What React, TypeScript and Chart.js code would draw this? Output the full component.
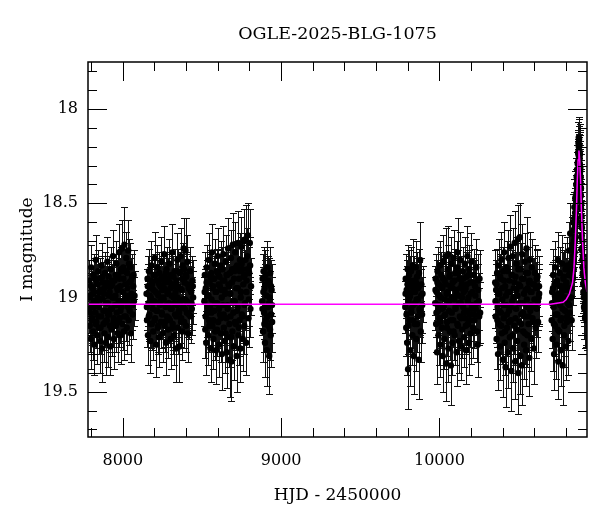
import { useEffect, useRef } from 'react';
import { Chart, registerables } from 'chart.js';

Chart.register(...registerables);

type Obs = [number, number, number]; // [HJD-2450000, I mag, error]

const season2017: Obs[] = [
  [7785,19.06,.13],[7788,18.91,.11],[7791,19.15,.14],[7794,18.99,.12],[7797,19.22,.16],[7800,18.84,.12],
  [7803,19.04,.12],[7806,19.11,.13],[7809,18.95,.11],[7812,19.18,.15],[7815,18.88,.11],[7818,19.02,.12],
  [7821,19.25,.16],[7824,18.97,.11],[7827,19.08,.13],[7830,18.80,.13],[7833,19.13,.14],[7836,18.93,.11],
  [7839,19.20,.15],[7842,19.00,.12],[7845,18.86,.11],[7848,19.16,.14],[7851,19.05,.12],[7854,18.90,.11],
  [7857,19.23,.17],[7860,18.96,.12],[7863,19.10,.13],[7866,18.83,.12],[7869,19.27,.18],[7872,19.01,.12],
  [7875,18.92,.11],[7878,19.14,.14],[7881,18.98,.12],[7884,19.19,.15],[7887,18.87,.11],[7890,19.07,.12],
  [7893,19.24,.17],[7896,18.94,.11],[7899,19.12,.13],[7902,18.81,.13],[7905,19.03,.12],[7908,19.21,.16],
  [7911,18.89,.11],[7914,19.09,.13],[7917,18.97,.12],[7920,19.26,.15],[7923,18.85,.12],[7926,19.06,.12],
  [7929,19.17,.14],[7932,18.93,.11],[7935,19.00,.12],[7938,18.78,.14],[7941,19.13,.13],[7944,19.22,.16],
  [7947,18.91,.11],[7950,19.04,.12],[7953,18.99,.12],[7956,19.15,.14],[7959,18.82,.12],[7962,19.08,.13],
  [7965,18.95,.11],[7968,19.19,.15],[7971,18.88,.11],[7974,19.02,.12],[7977,18.76,.15],[7980,19.11,.13],
  [7983,18.94,.11],[7986,19.20,.15],[7989,18.85,.12],[7992,19.05,.12],[7995,18.74,.15],[7998,19.14,.14],
  [8001,18.97,.12],[8004,18.90,.11],[8007,19.18,.15],[8010,18.72,.20],[8013,19.01,.12],[8016,18.86,.12],
  [8019,19.10,.13],[8022,18.79,.14],[8025,19.16,.14],[8028,18.95,.11],[8031,19.03,.12],[8034,18.75,.16],
  [8037,19.12,.13],[8040,18.92,.11],[8043,19.07,.12],[8046,18.84,.13],[8050,19.19,.15],[8054,18.98,.12],
  [8058,18.89,.12],[8062,19.09,.13],[8066,18.94,.12],[8070,19.02,.13],[8074,18.99,.13],
  [7787,19.00,.12],[7793,19.08,.12],[7799,18.94,.11],[7805,19.12,.13],[7811,18.98,.12],[7817,19.05,.12],
  [7823,18.90,.11],[7829,19.14,.13],[7835,19.02,.12],[7841,18.93,.11],[7847,19.10,.13],[7853,18.97,.12],
  [7859,19.16,.14],[7865,19.01,.12],[7871,18.89,.11],[7877,19.07,.12],[7883,18.95,.11],[7889,19.13,.13],
  [7895,19.03,.12],[7901,18.92,.11],[7907,19.09,.13],[7913,18.99,.12],[7919,19.15,.14],[7925,18.94,.11],
  [7931,19.06,.12],[7937,18.91,.11],[7943,19.11,.13],[7949,19.00,.12],[7955,18.88,.11],[7961,19.04,.12],
  [7967,18.96,.12],[7973,19.13,.13],[7979,18.90,.11],[7985,19.07,.12],[7991,18.86,.12],[7997,19.02,.12],
  [8003,18.84,.12],[8009,19.10,.13],[8015,18.93,.12],[8021,18.99,.12],[8027,18.87,.12],[8033,19.05,.12],
  [8039,18.82,.13],[8045,19.00,.12],[8052,18.91,.12],[8060,19.04,.13],[8068,18.88,.13],
];

const season2018: Obs[] = [
  [8150,18.98,.13],[8153,19.12,.14],[8156,18.90,.12],[8159,19.20,.16],[8162,19.03,.12],[8165,18.86,.12],
  [8168,19.09,.13],[8171,18.95,.11],[8174,19.23,.17],[8177,19.00,.12],[8180,18.83,.13],[8183,19.14,.14],
  [8186,18.93,.11],[8189,19.06,.12],[8192,19.18,.15],[8195,18.88,.11],[8198,19.02,.12],[8201,18.79,.14],
  [8204,19.11,.13],[8207,18.97,.12],[8210,19.25,.17],[8213,18.91,.11],[8216,19.07,.12],[8219,18.84,.12],
  [8222,19.16,.14],[8225,18.99,.12],[8228,19.21,.16],[8231,18.87,.11],[8234,19.04,.12],[8237,18.94,.11],
  [8240,19.13,.14],[8243,18.81,.13],[8246,19.08,.13],[8249,18.96,.12],[8252,19.19,.15],[8255,18.89,.11],
  [8258,19.01,.12],[8261,18.77,.15],[8264,19.15,.14],[8267,18.92,.11],[8270,19.05,.12],[8273,19.24,.17],
  [8276,18.85,.12],[8279,19.10,.13],[8282,18.98,.12],[8285,19.17,.15],[8288,18.90,.11],[8291,19.03,.12],
  [8294,18.82,.13],[8297,19.12,.14],[8300,18.95,.11],[8303,19.22,.16],[8306,18.88,.11],[8309,19.06,.12],
  [8312,18.76,.15],[8315,19.14,.14],[8318,18.93,.11],[8321,19.00,.12],[8324,19.20,.16],[8327,18.86,.12],
  [8330,19.09,.13],[8333,18.97,.12],[8336,19.27,.18],[8339,18.91,.11],[8342,19.04,.12],[8345,18.80,.14],
  [8348,19.16,.14],[8351,18.94,.11],[8354,19.07,.12],[8357,19.26,.19],[8360,18.87,.11],[8363,19.02,.12],
  [8366,18.78,.15],[8369,19.11,.13],[8372,18.96,.12],[8375,19.18,.15],[8378,18.83,.12],[8381,19.05,.12],
  [8384,18.74,.16],[8387,19.13,.14],[8390,18.92,.11],[8393,19.01,.12],[8396,18.75,.17],[8399,19.15,.14],
  [8402,18.89,.12],[8405,19.08,.13],[8408,18.81,.14],[8412,19.19,.15],[8416,18.95,.12],[8420,19.03,.13],
  [8424,18.86,.13],[8428,19.10,.14],[8432,18.97,.13],[8436,19.06,.14],[8440,18.91,.13],[8444,19.00,.14],
  [8152,19.05,.12],[8158,18.94,.12],[8164,19.10,.13],[8170,18.99,.12],[8176,19.14,.13],[8182,18.91,.11],
  [8188,19.03,.12],[8194,18.96,.12],[8200,19.12,.13],[8206,18.88,.11],[8212,19.07,.12],[8218,18.98,.12],
  [8224,19.15,.14],[8230,18.93,.11],[8236,19.02,.12],[8242,18.90,.11],[8248,19.09,.13],[8254,19.00,.12],
  [8260,18.95,.12],[8266,19.13,.13],[8272,18.87,.11],[8278,19.04,.12],[8284,18.97,.12],[8290,19.11,.13],
  [8296,18.92,.11],[8302,19.06,.12],[8308,18.99,.12],[8314,19.16,.14],[8320,18.89,.11],[8326,19.03,.12],
  [8332,18.94,.12],[8338,19.10,.13],[8344,19.00,.12],[8350,18.86,.12],[8356,19.08,.13],[8362,18.95,.12],
  [8368,19.13,.13],[8374,18.90,.12],[8380,19.01,.12],[8386,18.85,.12],[8392,19.06,.13],[8398,18.88,.12],
  [8404,19.02,.13],[8410,18.93,.12],[8418,19.09,.13],[8426,18.96,.13],[8434,19.03,.14],[8442,18.94,.14],
];

const season2019: Obs[] = [
  [8515,19.02,.13],[8518,18.88,.12],[8521,19.17,.15],[8524,18.95,.12],[8527,19.24,.17],[8530,18.84,.12],
  [8533,19.08,.13],[8536,18.99,.12],[8539,19.20,.16],[8542,18.80,.14],[8545,19.12,.14],[8548,18.92,.11],
  [8551,19.05,.12],[8554,19.27,.18],[8557,18.87,.12],[8560,19.01,.12],[8563,18.76,.15],[8566,19.15,.14],
  [8569,18.94,.11],[8572,19.22,.16],[8575,18.90,.11],[8578,19.07,.13],[8581,18.82,.13],[8584,19.18,.15],
  [8587,18.97,.12],[8590,19.28,.18],[8593,18.86,.12],[8596,19.03,.12],[8599,18.78,.15],[8602,19.13,.14],
  [8605,18.93,.11],[8608,19.25,.17],[8611,18.89,.12],[8614,19.09,.13],[8617,18.83,.13],[8620,19.19,.15],
  [8623,18.96,.12],[8626,19.30,.19],[8629,18.85,.12],[8632,19.04,.12],[8635,18.77,.15],[8638,19.16,.14],
  [8641,18.91,.11],[8644,19.23,.17],[8647,18.98,.12],[8650,18.81,.14],[8653,19.11,.14],[8656,19.29,.19],
  [8659,18.88,.12],[8662,19.06,.13],[8665,18.74,.16],[8668,19.21,.16],[8671,18.94,.12],[8674,19.33,.20],
  [8677,18.87,.12],[8680,19.10,.14],[8683,18.79,.15],[8686,19.34,.21],[8689,18.92,.12],[8692,19.18,.15],
  [8695,18.72,.17],[8698,19.08,.13],[8701,19.26,.18],[8704,18.86,.12],[8707,19.02,.12],[8710,18.76,.16],
  [8713,19.14,.14],[8716,18.95,.12],[8719,19.31,.19],[8722,18.83,.13],[8725,19.05,.13],[8728,18.71,.17],
  [8731,19.20,.16],[8734,18.90,.12],[8737,19.12,.14],[8740,18.80,.14],[8743,19.27,.18],[8746,18.97,.12],
  [8749,18.73,.16],[8752,19.09,.14],[8755,18.85,.13],[8758,19.22,.17],[8761,18.93,.12],[8764,18.70,.17],
  [8767,19.15,.15],[8770,18.88,.13],[8773,19.03,.13],[8776,18.69,.18],[8779,19.24,.17],[8782,18.91,.13],
  [8786,18.78,.15],[8790,18.67,.17],[8794,19.11,.15],[8798,18.87,.14],[8802,18.71,.18],[8806,19.06,.15],
  [8810,18.94,.15],
  [8517,18.97,.12],[8523,19.10,.13],[8529,18.92,.12],[8535,19.05,.12],[8541,18.99,.12],[8547,19.15,.14],
  [8553,18.89,.12],[8559,19.08,.13],[8565,18.95,.12],[8571,19.12,.13],[8577,18.90,.12],[8583,19.03,.12],
  [8589,18.97,.12],[8595,19.17,.14],[8601,18.87,.12],[8607,19.06,.13],[8613,18.94,.12],[8619,19.11,.13],
  [8625,19.00,.12],[8631,18.91,.12],[8637,19.09,.13],[8643,18.96,.12],[8649,19.19,.15],[8655,18.88,.12],
  [8661,19.04,.13],[8667,18.93,.12],[8673,19.14,.14],[8679,18.98,.12],[8685,19.21,.16],[8691,18.85,.13],
  [8697,19.02,.13],[8703,18.90,.12],[8709,19.13,.14],[8715,18.84,.13],[8721,19.07,.13],[8727,18.95,.12],
  [8733,19.16,.15],[8739,18.86,.13],[8745,19.00,.13],[8751,18.82,.14],[8757,19.10,.14],[8763,18.89,.13],
  [8769,19.04,.13],[8775,18.80,.14],[8781,18.97,.13],[8788,18.85,.14],[8796,19.01,.14],[8804,18.83,.15],
];

const season2020: Obs[] = [
  [8880,19.02,.14],[8883,18.90,.13],[8886,19.18,.16],[8889,18.86,.13],[8892,19.08,.14],[8895,18.95,.13],
  [8898,19.24,.18],[8901,18.88,.13],[8904,19.12,.15],[8907,18.99,.14],[8910,19.28,.19],[8913,18.84,.14],
  [8916,19.05,.14],[8919,19.15,.16],[8922,18.92,.13],[8925,19.31,.20],[8928,19.00,.14],[8931,18.87,.14],
  [8934,19.20,.17],[8937,19.09,.15],[8940,18.96,.14],[8943,19.13,.16],
  [8882,19.06,.14],[8888,18.97,.13],[8894,19.14,.15],[8900,18.93,.13],[8906,19.05,.14],[8912,19.10,.15],
  [8918,18.91,.13],[8924,19.03,.14],[8930,19.17,.16],[8936,18.94,.14],[8942,19.04,.15],
];

const season2022: Obs[] = [
  [9784,19.05,.14],[9787,18.90,.13],[9790,19.16,.15],[9793,18.96,.13],[9796,19.24,.17],[9799,18.85,.13],
  [9802,19.38,.21],[9805,19.02,.13],[9808,18.88,.13],[9811,19.12,.15],[9814,18.99,.13],[9817,19.28,.19],
  [9820,18.86,.13],[9823,19.08,.14],[9826,18.94,.13],[9829,19.20,.16],[9832,18.83,.14],[9835,19.04,.13],
  [9838,19.31,.20],[9841,18.91,.13],[9844,19.14,.15],[9847,18.97,.13],[9850,18.84,.14],[9853,19.22,.17],
  [9856,19.01,.13],[9859,18.89,.13],[9862,19.10,.14],[9865,18.95,.13],[9868,19.33,.21],[9871,18.87,.13],
  [9874,19.06,.14],[9878,18.80,.20],[9882,19.18,.16],[9886,18.93,.14],[9890,19.09,.15],[9893,18.98,.15],
  [9786,18.98,.13],[9792,19.09,.14],[9798,18.93,.13],[9804,19.15,.15],[9810,19.00,.13],[9816,18.91,.13],
  [9822,19.06,.14],[9828,18.97,.13],[9834,19.12,.15],[9840,18.95,.13],[9846,19.03,.13],[9852,18.92,.13],
  [9858,19.14,.15],[9864,19.01,.13],[9870,18.94,.13],[9876,19.07,.14],[9884,18.99,.14],[9891,19.04,.15],
];

const season2023: Obs[] = [
  [9973,19.03,.14],[9976,18.90,.13],[9979,19.14,.15],[9982,18.97,.12],[9985,19.29,.17],[9988,18.86,.13],
  [9991,19.07,.13],[9994,19.20,.16],[9997,18.93,.12],[10000,19.11,.14],[10003,18.83,.13],[10006,19.25,.17],
  [10009,19.00,.12],[10012,18.88,.12],[10015,19.16,.15],[10018,18.95,.12],[10021,19.31,.19],[10024,18.81,.14],
  [10027,19.05,.13],[10030,19.22,.16],[10033,18.91,.12],[10036,19.09,.13],[10039,18.78,.15],[10042,19.35,.20],
  [10045,18.98,.12],[10048,19.13,.14],[10051,18.85,.13],[10054,18.77,.15],[10057,19.27,.18],[10060,19.02,.12],
  [10063,18.89,.12],[10066,19.18,.15],[10069,18.94,.12],[10072,19.36,.21],[10075,18.82,.14],[10078,19.08,.13],
  [10081,19.24,.17],[10084,18.92,.12],[10087,19.12,.14],[10090,18.79,.15],[10093,19.01,.12],[10096,19.20,.16],
  [10099,18.87,.13],[10102,19.06,.13],[10105,18.96,.12],[10108,19.29,.18],[10111,18.84,.14],[10114,18.76,.18],
  [10117,19.15,.15],[10120,18.99,.12],[10123,19.23,.17],[10126,18.90,.12],[10129,19.10,.14],[10132,18.80,.15],
  [10135,19.03,.13],[10138,19.26,.18],[10141,18.93,.12],[10144,19.17,.15],[10147,18.86,.13],[10150,19.05,.13],
  [10153,18.97,.12],[10156,19.21,.16],[10159,18.82,.14],[10162,19.11,.14],[10165,18.95,.12],[10168,19.28,.18],
  [10171,18.89,.13],[10174,19.07,.13],[10177,18.78,.16],[10180,19.14,.15],[10183,19.00,.13],[10186,19.24,.17],
  [10189,18.85,.13],[10192,19.09,.14],[10195,18.92,.13],[10198,19.19,.16],[10201,18.81,.15],[10205,19.04,.14],
  [10209,18.97,.13],[10213,19.16,.16],[10217,18.88,.14],[10221,19.12,.15],[10225,18.94,.14],[10229,19.06,.14],
  [10233,18.84,.15],[10237,19.18,.16],[10241,19.25,.17],[10245,18.96,.14],[10249,19.02,.15],[10253,18.90,.15],
  [10257,19.08,.16],
  [9975,18.96,.13],[9981,19.08,.13],[9987,18.92,.12],[9993,19.04,.13],[9999,18.99,.12],[10005,19.13,.14],
  [10011,18.94,.12],[10017,19.06,.13],[10023,18.90,.12],[10029,19.10,.14],[10035,19.01,.12],[10041,18.93,.12],
  [10047,19.16,.15],[10053,18.97,.12],[10059,19.07,.13],[10065,18.88,.12],[10071,19.12,.14],[10077,19.00,.12],
  [10083,18.95,.12],[10089,19.18,.15],[10095,18.91,.12],[10101,19.05,.13],[10107,18.98,.12],[10113,19.14,.14],
  [10119,18.87,.12],[10125,19.03,.13],[10131,18.95,.12],[10137,19.11,.14],[10143,19.00,.12],[10149,18.90,.12],
  [10155,19.08,.13],[10161,18.96,.12],[10167,19.15,.15],[10173,18.93,.12],[10179,19.02,.13],[10185,18.88,.13],
  [10191,19.12,.14],[10197,18.98,.13],[10203,19.06,.14],[10211,18.92,.13],[10219,19.09,.14],[10227,18.99,.14],
  [10235,19.03,.14],[10243,18.91,.14],[10251,19.10,.15],
];

const season2024: Obs[] = [
  [10352,18.92,.17],[10355,19.10,.14],[10358,18.96,.14],[10361,19.22,.16],[10364,18.87,.13],[10367,19.05,.13],
  [10370,19.30,.19],[10373,18.83,.14],[10376,19.14,.15],[10379,18.98,.12],[10382,19.26,.18],[10385,18.90,.12],
  [10388,19.08,.13],[10391,18.80,.15],[10394,19.19,.16],[10397,19.01,.13],[10400,19.33,.20],[10403,18.86,.13],
  [10406,19.11,.14],[10409,18.76,.16],[10412,19.24,.17],[10415,18.94,.12],[10418,19.37,.21],[10421,19.04,.13],
  [10424,18.84,.14],[10427,19.16,.15],[10430,18.97,.12],[10433,19.29,.19],[10436,18.79,.15],[10439,19.07,.13],
  [10442,18.91,.12],[10445,19.21,.17],[10448,18.73,.17],[10451,19.12,.14],[10454,19.39,.21],[10457,18.88,.13],
  [10460,19.02,.13],[10463,18.78,.15],[10466,19.27,.18],[10469,18.95,.12],[10472,19.15,.15],[10475,18.71,.17],
  [10478,19.34,.20],[10481,18.89,.13],[10484,19.06,.13],[10487,18.82,.14],[10490,19.23,.17],[10493,18.99,.13],
  [10496,18.69,.18],[10499,19.40,.22],[10502,18.93,.13],[10505,19.13,.15],[10508,18.68,.18],[10511,19.31,.20],
  [10514,18.85,.14],[10517,19.09,.14],[10520,19.36,.21],[10523,18.77,.16],[10526,19.03,.13],[10529,19.18,.16],
  [10532,18.90,.13],[10535,19.25,.18],[10538,18.81,.15],[10541,19.10,.14],[10544,18.96,.13],[10547,19.28,.19],
  [10550,18.74,.17],[10553,19.05,.14],[10556,19.20,.17],[10559,18.87,.14],[10562,19.14,.15],[10565,18.92,.13],
  [10568,19.32,.20],[10571,18.80,.15],[10574,19.07,.14],[10577,18.97,.13],[10580,19.22,.17],[10584,18.84,.15],
  [10588,19.11,.15],[10592,18.93,.14],[10596,19.27,.19],[10600,19.01,.14],[10603,18.87,.15],[10607,19.16,.16],
  [10611,18.95,.14],[10615,19.06,.15],[10619,18.89,.15],[10623,19.13,.16],[10627,19.00,.15],[10630,18.98,.16],
  [10354,19.02,.14],[10360,18.93,.13],[10366,19.12,.14],[10372,18.98,.12],[10378,19.07,.13],[10384,18.89,.12],
  [10390,19.15,.15],[10396,18.95,.12],[10402,19.04,.13],[10408,18.91,.12],[10414,19.18,.16],[10420,18.99,.13],
  [10426,19.09,.13],[10432,18.86,.13],[10438,19.13,.14],[10444,18.97,.12],[10450,19.05,.13],[10456,18.88,.13],
  [10462,19.20,.16],[10468,19.00,.13],[10474,18.92,.12],[10480,19.11,.14],[10486,18.96,.13],[10492,19.17,.15],
  [10498,18.85,.14],[10504,19.03,.13],[10510,18.94,.13],[10516,19.14,.15],[10522,18.90,.13],[10528,19.08,.14],
  [10534,18.98,.13],[10540,19.19,.16],[10546,18.87,.13],[10552,19.01,.13],[10558,18.95,.13],[10564,19.10,.14],
  [10570,18.91,.13],[10576,19.04,.14],[10582,18.97,.14],[10590,19.13,.15],[10598,18.93,.14],[10606,19.05,.15],
  [10614,18.90,.15],[10622,19.02,.15],[10629,18.94,.16],
];

const season2025: Obs[] = [
  [10709,19.12,.15],[10712,18.97,.15],[10715,19.22,.17],[10718,18.88,.14],[10721,19.05,.14],[10724,19.30,.19],
  [10727,18.93,.13],[10730,19.15,.16],[10733,18.84,.14],[10736,19.01,.14],[10739,19.25,.18],[10742,18.91,.13],
  [10745,19.09,.15],[10748,18.80,.15],[10751,19.34,.20],[10754,18.98,.13],[10757,19.18,.16],[10760,18.87,.14],
  [10763,19.04,.14],[10766,19.28,.19],[10769,18.94,.13],[10772,19.11,.15],[10775,18.82,.15],[10778,19.36,.21],
  [10781,19.00,.14],[10784,18.89,.14],[10787,19.20,.17],[10790,18.96,.13],[10793,19.07,.15],[10796,18.85,.14],
  [10799,19.26,.18],[10802,18.92,.13],[10805,19.13,.15],[10808,18.83,.15],[10811,19.03,.14],[10814,19.23,.18],
  [10817,18.88,.14],[10820,18.75,.15],[10823,19.08,.15],[10826,18.66,.16],[10829,18.95,.14],[10832,18.81,.15],
  [10835,19.12,.16],[10838,18.72,.15],[10841,18.89,.15],[10844,18.78,.14],[10846,18.60,.15],[10848,18.85,.15],
  [10850,18.70,.14],[10852,18.52,.15],[10854,18.76,.14],[10856,18.62,.14],[10858,18.47,.14],[10860,18.68,.14],
  [10862,18.55,.13],[10864,18.40,.14],[10866,18.58,.13],[10868,18.44,.13],[10870,18.32,.13],[10871,18.48,.13],
  [10873,18.29,.12],[10874,18.38,.12],[10876,18.23,.12],[10877,18.33,.12],[10878,18.18,.11],[10879,18.27,.12],
  [10880,18.20,.11],[10881,18.25,.12],[10882,18.16,.11],[10883,18.22,.11],[10884,18.30,.12],[10885,18.19,.11],
  [10886,18.26,.12],[10887,18.34,.12],[10888,18.24,.12],[10889,18.40,.13],[10890,18.31,.12],[10891,18.45,.13],
  [10892,18.36,.12],[10893,18.52,.13],[10894,18.42,.13],[10895,18.60,.14],[10896,18.50,.13],[10897,18.68,.14],
  [10898,18.57,.13],[10899,18.74,.14],[10900,18.63,.14],[10902,18.80,.14],[10903,18.70,.14],[10905,18.87,.15],
  [10906,18.78,.14],[10908,18.93,.15],[10910,18.84,.15],[10912,19.00,.15],[10914,18.89,.15],[10916,19.06,.16],
  [10918,18.94,.15],[10920,19.11,.16],[10922,18.98,.15],[10924,19.04,.16],[10926,18.92,.15],[10928,19.09,.16],
  [10930,19.01,.16],
  [10711,19.03,.15],[10717,18.95,.14],[10723,19.14,.16],[10729,18.99,.14],[10735,19.09,.15],[10741,18.92,.14],
  [10747,19.17,.16],[10753,19.01,.14],[10759,18.94,.14],[10765,19.12,.15],[10771,18.97,.14],[10777,19.06,.15],
  [10783,18.90,.14],[10789,19.15,.16],[10795,19.00,.14],[10801,18.93,.14],[10807,19.10,.15],[10813,18.96,.14],
  [10819,19.04,.15],[10825,18.86,.15],[10831,19.00,.15],[10837,18.84,.15],
  [10843,18.90,.14],[10845,18.72,.14],[10847,18.80,.14],[10849,18.64,.14],[10851,18.75,.14],[10853,18.58,.14],
  [10855,18.68,.13],[10857,18.55,.13],[10859,18.60,.13],[10861,18.48,.13],[10863,18.52,.13],[10865,18.45,.13],
  [10867,18.36,.13],[10869,18.41,.13],[10872,18.35,.12],[10875,18.28,.12],[10878,18.24,.12],[10880,18.15,.11],
  [10883,18.27,.12],[10885,18.23,.12],[10887,18.29,.12],[10889,18.33,.12],[10891,18.39,.12],[10893,18.46,.13],
  [10895,18.53,.13],[10897,18.62,.13],[10899,18.67,.14],[10901,18.75,.14],[10904,18.84,.14],[10907,18.88,.15],
  [10909,18.97,.15],[10911,18.92,.15],[10913,19.05,.15],[10915,18.98,.15],[10919,19.03,.16],[10923,19.10,.16],
  [10927,18.99,.16],[10929,19.12,.16],
];

// Microlensing model curve
const modelHjd = [7780, 10700, 10781, 10801, 10821, 10841, 10850, 10858, 10866, 10870.5, 10876, 10881,
  10886, 10891.5, 10896, 10904, 10912, 10921, 10932];
const modelMag = [19.035, 19.035, 19.025, 19.01, 18.98, 18.92, 18.84, 18.70, 18.52, 18.38, 18.27, 18.22,
  18.27, 18.38, 18.52, 18.70, 18.84, 18.92, 18.97];

const xLabelTicks = [8000, 9000, 10000];
const yLabelTicks = [18, 18.5, 19, 19.5];
const xRange = [7780, 10932];
const yRange = [17.75, 19.74];

const chartTitle = 'OGLE-2025-BLG-1075';
const xAxisTitle = 'HJD - 2450000';
const yAxisTitle = 'I magnitude';

const FONT = "'DejaVu Serif', serif";

const framePlugin = {
  id: 'frameAndErrors',
  beforeDatasetsDraw(chart: any) {
    const { ctx, chartArea: a, scales } = chart;
    const xs = scales.x, ys = scales.y;
    const data = chart.data.datasets[1].data as { x: number; y: number; e: number }[];
    ctx.save();
    ctx.beginPath();
    ctx.rect(a.left, a.top, a.right - a.left, a.bottom - a.top);
    ctx.clip();
    ctx.strokeStyle = '#111';
    ctx.lineWidth = 1;
    ctx.beginPath();
    for (const p of data) {
      const px = Math.round(xs.getPixelForValue(p.x)) + 0.5;
      const y1 = Math.round(ys.getPixelForValue(p.y - p.e)) + 0.5;
      const y2 = Math.round(ys.getPixelForValue(p.y + p.e)) + 0.5;
      ctx.moveTo(px, y1); ctx.lineTo(px, y2);
      ctx.moveTo(px - 3.5, y1); ctx.lineTo(px + 3.5, y1);
      ctx.moveTo(px - 3.5, y2); ctx.lineTo(px + 3.5, y2);
    }
    ctx.stroke();
    ctx.restore();
  },
  afterDraw(chart: any) {
    const { ctx, chartArea: a, scales } = chart;
    const xs = scales.x, ys = scales.y;
    ctx.save();
    ctx.strokeStyle = '#000';
    ctx.lineWidth = 1;
    ctx.beginPath();
    for (let i = 39; i <= 54; i++) {
      const v = i * 200;
      if (v < xRange[0] || v > xRange[1]) continue;
      const px = Math.round(xs.getPixelForValue(v)) + 0.5;
      const len = v % 1000 === 0 ? 19 : 9;
      ctx.moveTo(px, a.bottom); ctx.lineTo(px, a.bottom - len);
      ctx.moveTo(px, a.top); ctx.lineTo(px, a.top + len);
    }
    for (let i = 178; i <= 197; i++) {
      const v = i / 10;
      if (v < yRange[0] || v > yRange[1]) continue;
      const py = Math.round(ys.getPixelForValue(v)) + 0.5;
      const len = i % 5 === 0 ? 19 : 9;
      ctx.moveTo(a.left, py); ctx.lineTo(a.left + len, py);
      ctx.moveTo(a.right, py); ctx.lineTo(a.right - len, py);
    }
    ctx.stroke();
    ctx.lineWidth = 1.5;
    ctx.strokeRect(a.left, a.top, a.right - a.left, a.bottom - a.top);
    // title centred over the plotting frame
    ctx.fillStyle = '#000';
    ctx.font = `17.5px ${FONT}`;
    ctx.textAlign = 'center';
    ctx.textBaseline = 'middle';
    ctx.fillText(chartTitle, (a.left + a.right) / 2, 34);
    ctx.restore();
  },
};

export default function App() {
  const ref = useRef<HTMLCanvasElement>(null);
  useEffect(() => {
    if (!ref.current) return;
    const obs = [...season2017, ...season2018, ...season2019, ...season2020, ...season2022,
      ...season2023, ...season2024, ...season2025].map(([x, y, e]) => ({ x, y, e }));
    const model = modelHjd.map((x, i) => ({ x, y: modelMag[i] }));
    const chart = new Chart(ref.current, {
      type: 'scatter',
      data: {
        datasets: [
          { type: 'line', data: model, borderColor: '#ff00ff', borderWidth: 1.5, pointRadius: 0, tension: 0, order: 0, fill: false } as any,
          { data: obs, backgroundColor: '#000', borderColor: '#000', borderWidth: 0, pointRadius: 3.2, order: 1 },
        ],
      },
      options: {
        animation: false,
        responsive: false,
        events: [],
        layout: { padding: { left: 0, right: 13, top: 62, bottom: 0 } },
        plugins: {
          legend: { display: false },
          tooltip: { enabled: false },
          title: { display: false },
        },
        scales: {
          x: {
            type: 'linear', position: 'bottom', min: xRange[0], max: xRange[1],
            afterFit: (s: any) => { s.height = 75; },
            afterBuildTicks: (s: any) => { s.ticks = xLabelTicks.map((v) => ({ value: v })); },
            grid: { display: false, drawTicks: false },
            border: { display: false },
            ticks: { color: '#000', font: { family: FONT, size: 16 }, padding: 14, maxRotation: 0, autoSkip: false, callback: (v: any) => String(v) },
            title: { display: true, text: xAxisTitle, color: '#000', font: { family: FONT, size: 17 }, padding: { top: 0, bottom: 6 } },
          },
          y: {
            type: 'linear', position: 'left', reverse: true, min: yRange[0], max: yRange[1],
            afterFit: (s: any) => { s.width = 88; },
            afterBuildTicks: (s: any) => { s.ticks = yLabelTicks.map((v) => ({ value: v })); },
            grid: { display: false, drawTicks: false },
            border: { display: false },
            ticks: { color: '#000', font: { family: FONT, size: 16 }, padding: 10, autoSkip: false, callback: (v: any) => String(v) },
            title: { display: true, text: yAxisTitle, color: '#000', font: { family: FONT, size: 17 }, padding: { top: 17, bottom: 0 } },
          },
        },
      },
      plugins: [framePlugin],
    });
    return () => chart.destroy();
  }, []);
  return (
    <div style={{ position: 'absolute', left: 0, top: 0, width: 600, height: 512, background: '#fff' }}>
      <canvas ref={ref} width={600} height={512} style={{ width: 600, height: 512, display: 'block' }} />
    </div>
  );
}
